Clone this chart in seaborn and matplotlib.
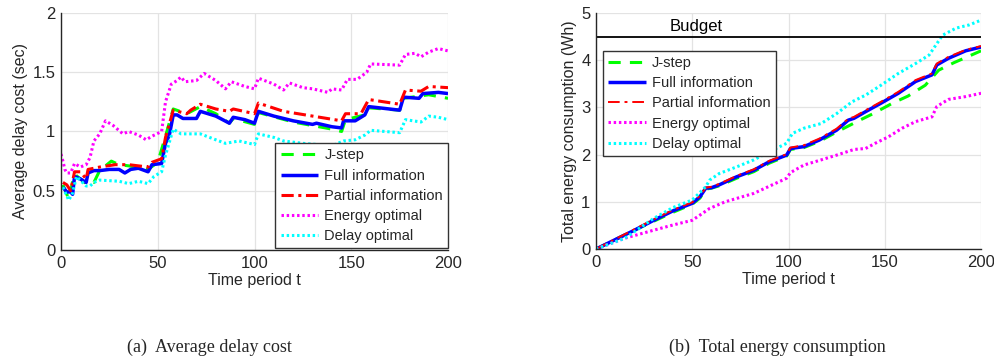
import numpy as np
import pandas as pd
import matplotlib
matplotlib.use("Agg")
import matplotlib.pyplot as plt
import seaborn as sns

# ---------------- data: (a) average delay cost ----------------
full_t = [1, 3, 5, 6, 7, 10, 13, 14, 17, 20, 25, 30, 33, 36, 40, 45, 47, 52, 54, 56, 58, 60, 63, 70, 72,
          80, 87, 89, 95, 100, 102, 110, 120, 130, 132, 140, 145, 146, 152, 157, 159, 175, 177, 185, 187, 195, 200]
full_v = [0.53, 0.49, 0.49, 0.47, 0.62, 0.60, 0.57, 0.65, 0.67, 0.67, 0.68, 0.68, 0.65, 0.68, 0.69, 0.66, 0.72,
          0.73, 0.90, 0.97, 1.14, 1.14, 1.11, 1.11, 1.17, 1.13, 1.07, 1.12, 1.10, 1.07, 1.17, 1.13, 1.09, 1.06,
          1.07, 1.04, 1.03, 1.09, 1.09, 1.14, 1.21, 1.18, 1.29, 1.28, 1.32, 1.33, 1.32]

partial_t = [1, 3, 5, 7, 10, 13, 14, 20, 28, 35, 45, 47, 52, 54, 58, 65, 67, 72, 80, 87, 89, 100, 102, 115,
             130, 145, 147, 155, 159, 175, 178, 186, 190, 200]
partial_v = [0.57, 0.55, 0.50, 0.66, 0.66, 0.60, 0.68, 0.70, 0.72, 0.72, 0.70, 0.74, 0.77, 0.95, 1.18, 1.15,
             1.18, 1.23, 1.19, 1.17, 1.19, 1.15, 1.24, 1.17, 1.13, 1.09, 1.15, 1.15, 1.27, 1.23, 1.35, 1.34,
             1.38, 1.37]

jstep_t = [1, 4, 7, 13, 15, 17, 20, 26, 30, 35, 45, 50, 54, 58, 65, 72, 80, 87, 89, 100, 102, 120, 140, 145,
           147, 157, 159, 175, 177, 190, 200]
jstep_v = [0.55, 0.43, 0.64, 0.56, 0.58, 0.57, 0.67, 0.75, 0.72, 0.71, 0.68, 0.74, 0.96, 1.19, 1.15, 1.21,
           1.15, 1.07, 1.11, 1.06, 1.16, 1.08, 1.02, 1.00, 1.10, 1.14, 1.20, 1.18, 1.28, 1.31, 1.28]

energy_t = [0, 1, 2, 3, 5, 7, 10, 13, 15, 17, 20, 23, 27, 32, 35, 40, 44, 47, 52, 54, 57, 60, 62, 64, 70, 74,
            80, 85, 88, 95, 100, 102, 110, 115, 118, 125, 130, 138, 140, 145, 148, 153, 158, 160, 175, 178,
            183, 186, 190, 195, 200]
energy_v = [0.81, 0.75, 0.68, 0.65, 0.65, 0.73, 0.70, 0.72, 0.78, 0.92, 0.98, 1.09, 1.05, 0.98, 1.00, 0.97,
            0.93, 0.96, 1.00, 1.25, 1.40, 1.43, 1.46, 1.42, 1.43, 1.49, 1.43, 1.36, 1.42, 1.38, 1.36, 1.45,
            1.40, 1.35, 1.41, 1.37, 1.36, 1.33, 1.36, 1.35, 1.44, 1.44, 1.50, 1.57, 1.56, 1.65, 1.66, 1.63,
            1.67, 1.70, 1.68]

delay_t = [1, 4, 6, 8, 13, 15, 17, 20, 30, 35, 40, 45, 48, 52, 54, 58, 62, 72, 80, 85, 92, 100, 102, 110, 115,
           125, 140, 146, 152, 157, 160, 175, 178, 186, 190, 195, 200]
delay_v = [0.53, 0.42, 0.48, 0.62, 0.54, 0.54, 0.57, 0.59, 0.58, 0.56, 0.58, 0.56, 0.62, 0.66, 0.80, 1.02,
           0.98, 0.98, 0.93, 0.90, 0.92, 0.89, 0.98, 0.95, 0.92, 0.90, 0.88, 0.92, 0.93, 0.97, 1.01, 0.99,
           1.10, 1.08, 1.13, 1.12, 1.10]

# ---------------- data: (b) total energy consumption ----------------
e_full_t = [0, 10, 20, 30, 40, 50, 54, 57, 60, 64, 73, 82, 90, 99, 101, 108, 116, 125, 131, 134, 140, 148,
            157, 166, 174.5, 177, 183, 192, 200]
e_full_v = [0, 0.20, 0.40, 0.61, 0.81, 0.97, 1.11, 1.29, 1.30, 1.36, 1.53, 1.67, 1.85, 1.99, 2.13, 2.17,
            2.31, 2.52, 2.73, 2.77, 2.91, 3.09, 3.30, 3.55, 3.69, 3.90, 4.04, 4.20, 4.28]
e_partial_t = e_full_t
e_partial_v = [0, 0.21, 0.42, 0.63, 0.83, 0.99, 1.13, 1.30, 1.32, 1.38, 1.55, 1.69, 1.87, 2.01, 2.15, 2.20,
               2.34, 2.55, 2.76, 2.80, 2.94, 3.12, 3.33, 3.58, 3.72, 3.93, 4.07, 4.22, 4.30]
e_jstep_t = [0, 10, 20, 30, 40, 50, 54, 57, 60, 64, 73, 82, 90, 99, 101, 108, 116, 125, 137, 144, 154, 162,
             171, 178, 186, 195, 200]
e_jstep_v = [0, 0.20, 0.40, 0.59, 0.78, 0.95, 1.08, 1.27, 1.29, 1.34, 1.50, 1.64, 1.82, 1.97, 2.11, 2.15,
             2.28, 2.48, 2.73, 2.87, 3.09, 3.24, 3.47, 3.79, 3.95, 4.11, 4.20]
e_energy_t = [0, 15, 30, 40, 50, 54, 59, 67, 82, 99, 101, 108, 117, 125, 134, 140, 145, 152, 159, 166, 174.5,
              177, 183, 192, 200]
e_energy_v = [0, 0.23, 0.40, 0.51, 0.61, 0.72, 0.86, 1.00, 1.18, 1.50, 1.62, 1.78, 1.89, 1.99, 2.11, 2.13,
              2.24, 2.38, 2.56, 2.70, 2.80, 3.02, 3.17, 3.23, 3.30]
e_delay_t = [0, 15, 30, 40, 50, 57, 59, 64, 73, 82, 90, 99, 102, 108, 117, 125, 133, 140, 148, 157, 166, 173,
             176, 180, 187, 194, 200]
e_delay_v = [0, 0.23, 0.65, 0.88, 1.04, 1.32, 1.46, 1.60, 1.74, 1.89, 2.06, 2.24, 2.45, 2.56, 2.66, 2.87,
             3.12, 3.26, 3.47, 3.72, 3.93, 4.11, 4.29, 4.53, 4.68, 4.75, 4.85]

budget = 4.5
labels = ["J-step", "Full information", "Partial information", "Energy optimal", "Delay optimal"]
x_ticks = [0, 50, 100, 150, 200]

# ---------------- styling ----------------
sns.set_theme(style="whitegrid")
plt.rcParams["font.family"] = ["Liberation Sans", "DejaVu Sans"]
plt.rcParams.update({
    "axes.edgecolor": "#262626",
    "grid.color": "#e3e3e3",
    "grid.linewidth": 0.9,
    "xtick.color": "#262626",
    "ytick.color": "#262626",
    "axes.labelcolor": "#262626",
})

fig = plt.figure(figsize=(9.95, 3.62), dpi=100)
ax1 = fig.add_axes([0.0613, 0.3094, 0.389, 0.6547])
ax2 = fig.add_axes([0.599, 0.312, 0.387, 0.652])

green, blue, red, mag, cyan = "#00ff00", "#0000ff", "#ff0000", "#ff00ff", "#00ffff"


def draw(ax, t, v, color, lw, dashes, label):
    sns.lineplot(x=t, y=v, ax=ax, color=color, linewidth=lw, label=label, sort=False, estimator=None)
    ln = ax.lines[-1]
    if dashes is not None:
        ln.set_dashes(dashes)
    ln.set_solid_capstyle("butt")


draw(ax1, jstep_t, jstep_v, green, 2.2, (4, 3), labels[0])
draw(ax1, full_t, full_v, blue, 2.5, None, labels[1])
draw(ax1, partial_t, partial_v, red, 2.2, (4, 1.5, 1, 1.5), labels[2])
draw(ax1, energy_t, energy_v, mag, 2.2, (0.8, 0.9), labels[3])
draw(ax1, delay_t, delay_v, cyan, 2.2, (0.8, 0.9), labels[4])

draw(ax2, e_jstep_t, e_jstep_v, green, 2.2, (4, 3), labels[0])
draw(ax2, e_full_t, e_full_v, blue, 2.5, None, labels[1])
draw(ax2, e_partial_t, e_partial_v, red, 1.4, (6, 2.5, 1.5, 2.5), labels[2])
draw(ax2, e_energy_t, e_energy_v, mag, 2.2, (0.8, 0.9), labels[3])
draw(ax2, e_delay_t, e_delay_v, cyan, 2.2, (0.8, 0.9), labels[4])

ax2.axhline(budget, color="black", linewidth=1.3)
ax2.text(52, 4.56, "Budget", ha="center", va="bottom", fontsize=12, color="black")

for ax in (ax1, ax2):
    ax.set_xlim(0, 200)
    ax.set_xticks(x_ticks)
    ax.set_xlabel("Time period t", fontsize=11.5, labelpad=2)
    ax.tick_params(axis="both", direction="in", length=3, width=0.8, labelsize=12, pad=4)
    for s in ("top", "right"):
        ax.spines[s].set_visible(False)
    for s in ("left", "bottom"):
        ax.spines[s].set_linewidth(1.0)
    ax.grid(True)

ax1.set_ylim(0, 2)
ax1.set_yticks([0, 0.5, 1, 1.5, 2])
ax1.set_yticklabels(["0", "0.5", "1", "1.5", "2"])
ax1.set_ylabel("Average delay cost (sec)", fontsize=11.5, labelpad=3)

ax2.set_ylim(0, 5)
ax2.set_yticks([0, 1, 2, 3, 4, 5])
ax2.set_ylabel("Total energy consumption (Wh)", fontsize=11.5, labelpad=3)

leg_kw = dict(fontsize=10.5, frameon=True, fancybox=False, framealpha=1, edgecolor="#333333",
              handlelength=2.6, handletextpad=0.4, labelspacing=0.42, borderpad=0.35, borderaxespad=0)
l1 = ax1.legend(loc="lower right", bbox_to_anchor=(1.0, 0.008), **leg_kw)
l2 = ax2.legend(loc="upper left", bbox_to_anchor=(0.018, 0.839), **leg_kw)
for lg in (l1, l2):
    lg.get_frame().set_linewidth(1.0)

cap_font = ["Liberation Serif", "DejaVu Serif"]
fig.text(0.21, 0.04, "(a)  Average delay cost", ha="center", va="center", fontsize=13, family=cap_font)
fig.text(0.781, 0.04, "(b)  Total energy consumption", ha="center", va="center", fontsize=13, family=cap_font)

fig.savefig("out.png", dpi=100)
